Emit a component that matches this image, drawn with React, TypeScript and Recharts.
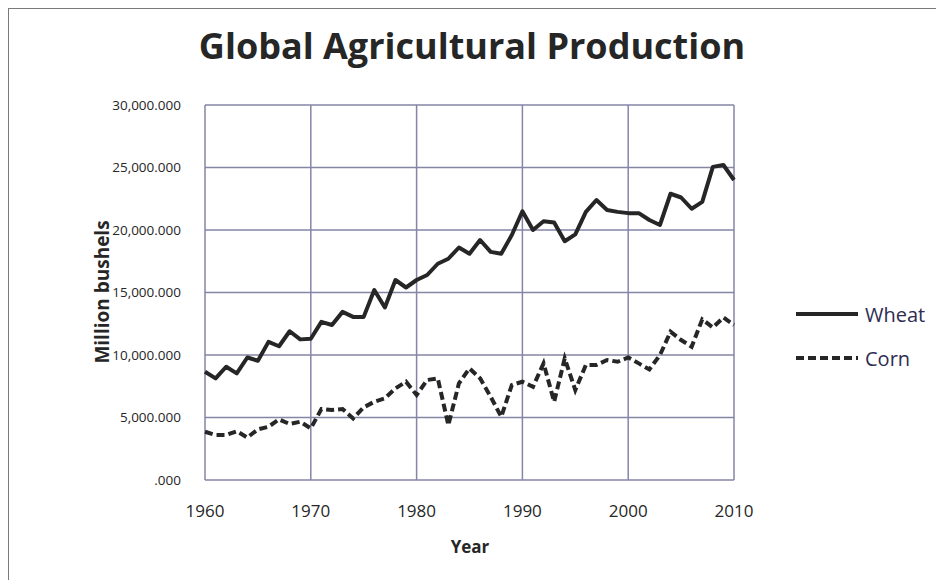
import React from 'react';
import { LineChart, Line, XAxis, YAxis, CartesianGrid } from 'recharts';

const years = [
  1960, 1961, 1962, 1963, 1964, 1965, 1966, 1967, 1968, 1969,
  1970, 1971, 1972, 1973, 1974, 1975, 1976, 1977, 1978, 1979,
  1980, 1981, 1982, 1983, 1984, 1985, 1986, 1987, 1988, 1989,
  1990, 1991, 1992, 1993, 1994, 1995, 1996, 1997, 1998, 1999,
  2000, 2001, 2002, 2003, 2004, 2005, 2006, 2007, 2008, 2009,
  2010,
];

const wheat = [
  8660, 8130, 9060, 8530, 9800, 9540, 11050, 10700, 11900, 11250,
  11300, 12650, 12400, 13450, 13050, 13050, 15200, 13800, 16000, 15400,
  16000, 16400, 17300, 17700, 18600, 18100, 19200, 18250, 18100, 19600,
  21500, 20000, 20700, 20600, 19100, 19650, 21450, 22400, 21600, 21450,
  21350, 21350, 20800, 20400, 22900, 22600, 21700, 22250, 25050, 25200,
  24000,
];

const corn = [
  3860, 3600, 3600, 3900, 3400, 4050, 4260, 4850, 4480, 4660,
  4130, 5680, 5600, 5680, 4930, 5810, 6260, 6530, 7330, 7860,
  6800, 8000, 8130, 4400, 7730, 8930, 8130, 6660, 5060, 7600,
  7860, 7460, 9330, 6260, 9730, 7200, 9200, 9200, 9600, 9460,
  9800, 9330, 8850, 9990, 11860, 11200, 10660, 12850, 12200, 13000,
  12400,
];

const seriesNames = ['Wheat', 'Corn'];
const xTicks = [1960, 1970, 1980, 1990, 2000, 2010];
const yTicks = [0, 5000, 10000, 15000, 20000, 25000, 30000];

const data = years.map((y, i) => ({ year: y, Wheat: wheat[i], Corn: corn[i] }));

const FONT = '"Open Sans", "Noto Sans", sans-serif';
const GRID = '#8585a6';
const INK = '#262626';

const fmtY = (v: number) =>
  v === 0 ? '.000' : v.toLocaleString('en-US', { minimumFractionDigits: 3, maximumFractionDigits: 3 });

export default function App() {
  return (
    <div style={{ position: 'relative', width: 944, height: 588, margin: -8, background: '#fff', overflow: 'hidden' }}>
      <div
        style={{
          position: 'absolute',
          left: 472,
          top: 45,
          transform: 'translate(-50%, -50%)',
          whiteSpace: 'nowrap',
          fontFamily: FONT,
          fontWeight: 700,
          fontSize: 36,
          color: INK,
        }}
      >
        Global Agricultural Production
      </div>
      <div
        style={{
          position: 'absolute',
          left: 102,
          top: 292,
          transform: 'translate(-50%, -50%) rotate(-90deg)',
          whiteSpace: 'nowrap',
          fontFamily: FONT,
          fontWeight: 700,
          fontSize: 19,
          color: INK,
        }}
      >
        Million bushels
      </div>
      <div
        style={{
          position: 'absolute',
          left: 470,
          top: 546,
          transform: 'translate(-50%, -50%)',
          fontFamily: FONT,
          fontWeight: 700,
          fontSize: 17,
          color: INK,
        }}
      >
        Year
      </div>
      <div style={{ position: 'absolute', left: 795, top: 292, fontFamily: FONT }}>
        {seriesNames.map((name) => (
          <div key={name} style={{ display: 'flex', alignItems: 'center', height: 44 }}>
            <svg width={64} height={10}>
              <line
                x1={1}
                y1={5}
                x2={63}
                y2={5}
                stroke={INK}
                strokeWidth={4}
                strokeDasharray={name === 'Corn' ? '8 4' : undefined}
              />
            </svg>
            <span style={{ marginLeft: 6, fontSize: 20, color: '#2d2d52' }}>{name}</span>
          </div>
        ))}
      </div>
      <div style={{ position: 'absolute', left: 0, top: 0 }}>
        <LineChart
          width={944}
          height={588}
          data={data}
          margin={{ top: 105, right: 210, bottom: 68, left: 115 }}
        >
          <CartesianGrid stroke={GRID} strokeWidth={1.5} horizontalValues={yTicks} verticalValues={xTicks} />
          <XAxis
            dataKey="year"
            type="number"
            domain={[1960, 2010]}
            ticks={xTicks}
            height={40}
            axisLine={false}
            tickLine={false}
            tickSize={0}
            tickMargin={25}
            tick={{ fontFamily: FONT, fontSize: 17, fill: INK }}
          />
          <YAxis
            type="number"
            domain={[0, 30000]}
            ticks={yTicks}
            width={90}
            axisLine={false}
            tickLine={false}
            tickSize={0}
            tickMargin={24}
            tickFormatter={fmtY}
            tick={{ fontFamily: FONT, fontSize: 13.5, fill: INK }}
          />
          <Line
            type="linear"
            dataKey="Wheat"
            stroke={INK}
            strokeWidth={4}
            dot={false}
            isAnimationActive={false}
            strokeLinejoin="round"
          />
          <Line
            type="linear"
            dataKey="Corn"
            stroke={INK}
            strokeWidth={4}
            strokeDasharray="8 4"
            dot={false}
            isAnimationActive={false}
          />
        </LineChart>
      </div>
      <div
        style={{
          position: 'absolute',
          left: 7,
          top: 7,
          width: 950,
          height: 580,
          border: '2px solid #7a7a7a',
          boxSizing: 'border-box',
          zIndex: 10,
          pointerEvents: 'none',
        }}
      />
    </div>
  );
}
